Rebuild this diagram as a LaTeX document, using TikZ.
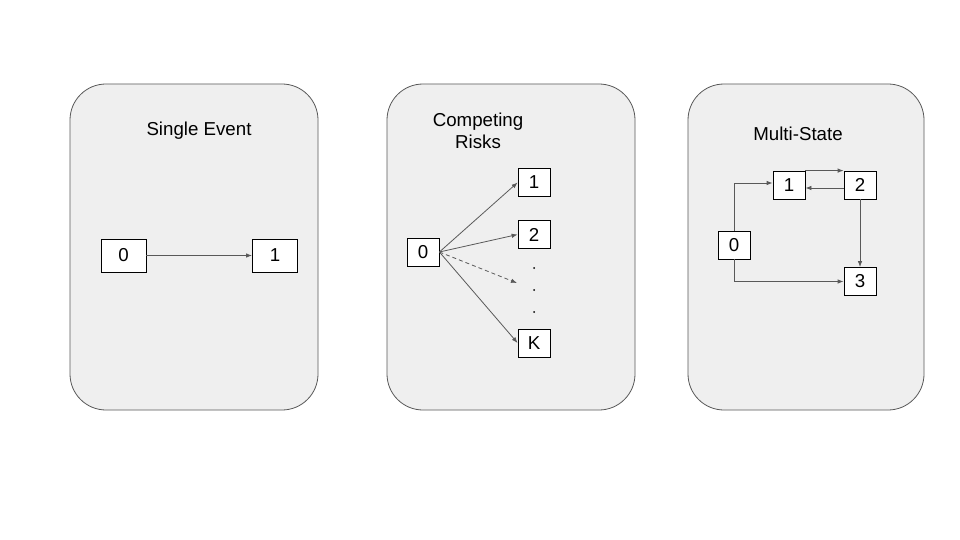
\documentclass[tikz,border=0pt]{standalone}
\usepackage{fontspec}
\setmainfont{Liberation Sans}
\usetikzlibrary{arrows.meta}

\definecolor{panelgray}{HTML}{EFEFEF}
\definecolor{linegray}{HTML}{595959}

\tikzset{
  panel/.style={draw=linegray, fill=panelgray, line width=0.8pt, rounded corners=36pt},
  state/.style={draw=black, fill=white, line width=0.8pt, inner sep=0pt,
    minimum width=32pt, minimum height=28pt},
  bigstate/.style={state, minimum width=45pt, minimum height=33pt},
  trans/.style={-{Latex[length=6pt,width=4.5pt]}, draw=linegray, line width=0.8pt},
}

\begin{document}
\begin{tikzpicture}[font=\fontsize{18.7}{22}\selectfont, x=1pt, y=-1pt]

\useasboundingbox (0,0) rectangle (960,540);
\fill[white] (0,0) rectangle (960,540);

% panels
\draw[panel] (70,84) rectangle (318,410);
\draw[panel] (387,84) rectangle (635,410);
\draw[panel] (688,84) rectangle (924,410);

% single event
\node (single) at (199,131) {Single Event};
\node[bigstate] (s0) at (123.5,255.5) {0};
\node[bigstate] (s1) at (275,255.5) {1};
\draw[trans] (s0) -- (s1);

% competing risks
\node[align=center] (comp) at (478,131) {Competing\\Risks};
\node[state] (c0) at (423,252) {0};
\node[state] (c1) at (534,182.5) {1};
\node[state] (c2) at (534,234.5) {2};
\node[state] (cK) at (534,343) {K};
\coordinate (cdots) at (517,283);
\foreach \y in {268,290,312}
  \fill (534,\y) circle (1pt);
\foreach \t in {c1,c2,cK}
  \draw[trans] (c0.east) -- (\t.west);
\draw[trans, dash pattern=on 4pt off 3pt] (c0.east) -- (cdots);

% multi-state
\node (multi) at (798,134) {Multi-State};
\node[state] (m0) at (734,245) {0};
\node[state] (m1) at (789,185) {1};
\node[state] (m2) at (860,185) {2};
\node[state] (m3) at (860,281.5) {3};
\draw[trans] (m0.north) |- ([yshift=2pt]m1.west);
\draw[trans] (m1.north east) -- (m2.north west);
\draw[trans] ([yshift=-3pt]m2.west) -- ([yshift=-3pt]m1.east);
\draw[trans] (m2.south) -- (m3.north);
\draw[trans] (m0.south) |- (m3.west);

\end{tikzpicture}
\end{document}
